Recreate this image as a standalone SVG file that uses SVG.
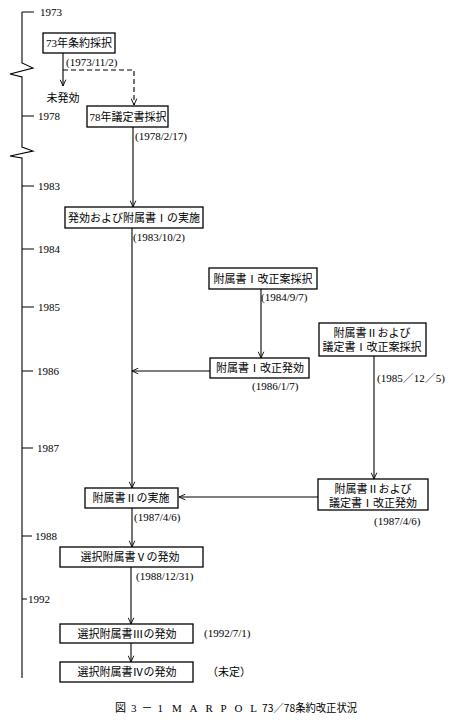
<svg xmlns="http://www.w3.org/2000/svg" width="455" height="725" viewBox="0 0 455 725">
<style>
text{font-family:"Liberation Serif","Noto Sans CJK JP",serif;font-size:11px;fill:#000}
.lbl{font-family:"Liberation Serif","Noto Sans CJK JP",serif;font-size:11px;text-anchor:middle}
.box{fill:#fff;stroke:#000;stroke-width:1.3}
.ln{fill:none;stroke:#000;stroke-width:1.1}
.dash{fill:none;stroke:#000;stroke-width:1.1;stroke-dasharray:5,3}
</style>
<defs>
<marker id="ah" viewBox="0 0 10 10" refX="10" refY="5" markerWidth="7" markerHeight="7" orient="auto" markerUnits="userSpaceOnUse">
<path d="M1,1 L10,5 L1,9" fill="none" stroke="#000" stroke-width="1.3"/>
</marker>
</defs>
<g id="axis">
<path class="ln" d="M22,12 V63 L33,68 L10,74 L22,77 V147 L33,151 L10,156 L22,158 V678"/>
<path class="ln" d="M22,12 H34 M22,116 H34 M22,186 H34 M22,249 H34 M22,307 H34 M22,371 H33 M22,448 H33 M22,536 H32 M22,599 H27"/>
<text x="40" y="16">1973</text>
<text x="38" y="120">1978</text>
<text x="38" y="190">1983</text>
<text x="38" y="253">1984</text>
<text x="38" y="311">1985</text>
<text x="37" y="375">1986</text>
<text x="37" y="452">1987</text>
<text x="35" y="540">1988</text>
<text x="28" y="603">1992</text>
</g>
<g id="connectors">
<line class="ln" x1="63" y1="53" x2="63" y2="86" marker-end="url(#ah)"/>
<path class="dash" d="M63,70 H134 V105" marker-end="url(#ah)"/>
<line class="ln" x1="133" y1="127" x2="133" y2="207" marker-end="url(#ah)"/>
<line class="ln" x1="132" y1="228" x2="132" y2="488" marker-end="url(#ah)"/>
<line class="ln" x1="261" y1="289" x2="261" y2="358" marker-end="url(#ah)"/>
<line class="ln" x1="210" y1="371" x2="132" y2="371" marker-end="url(#ah)"/>
<line class="ln" x1="374" y1="356" x2="374" y2="479" marker-end="url(#ah)"/>
<line class="ln" x1="318" y1="497" x2="179" y2="497" marker-end="url(#ah)"/>
<line class="ln" x1="132" y1="508" x2="132" y2="547" marker-end="url(#ah)"/>
<line class="ln" x1="131" y1="567" x2="131" y2="624" marker-end="url(#ah)"/>
<line class="ln" x1="131" y1="643" x2="131" y2="662" marker-end="url(#ah)"/>
</g>
<g id="n1">
<rect class="box" x="43" y="33" width="72" height="20"/>
<text class="lbl" x="79" y="47">73年条約採択</text>
<text x="66" y="66">(1973/11/2)</text>
</g>
<g id="n1b">
<text class="lbl" x="63" y="102">未発効</text>
</g>
<g id="n2">
<rect class="box" x="87" y="106" width="81" height="21"/>
<text class="lbl" x="128" y="121">78年議定書採択</text>
<text x="135" y="140">(1978/2/17)</text>
</g>
<g id="n3">
<rect class="box" x="65" y="207" width="138" height="21"/>
<text class="lbl" x="134" y="222">発効および附属書Ⅰの実施</text>
<text x="133" y="241">(1983/10/2)</text>
</g>
<g id="n4">
<rect class="box" x="209" y="268" width="108" height="21"/>
<text class="lbl" x="263" y="283">附属書Ⅰ改正案採択</text>
<text x="261" y="301">(1984/9/7)</text>
</g>
<g id="n5">
<rect class="box" x="210" y="358" width="99" height="20"/>
<text class="lbl" x="260" y="372">附属書Ⅰ改正発効</text>
<text x="252" y="390">(1986/1/7)</text>
</g>
<g id="n6">
<rect class="box" x="319" y="323" width="107" height="33"/>
<text class="lbl" x="372" y="337">附属書Ⅱおよび</text>
<text class="lbl" x="372" y="351">議定書Ⅰ改正案採択</text>
<text x="377" y="382">(1985／12／5)</text>
</g>
<g id="n7">
<rect class="box" x="318" y="479" width="110" height="31"/>
<text class="lbl" x="373" y="493">附属書Ⅱおよび</text>
<text class="lbl" x="373" y="507">議定書Ⅰ改正発効</text>
<text x="374" y="525">(1987/4/6)</text>
</g>
<g id="n8">
<rect class="box" x="85" y="488" width="93" height="20"/>
<text class="lbl" x="131" y="502">附属書Ⅱの実施</text>
<text x="134" y="521">(1987/4/6)</text>
</g>
<g id="n9">
<rect class="box" x="60" y="547" width="143" height="20"/>
<text class="lbl" x="130" y="561">選択附属書Ⅴの発効</text>
<text x="136" y="580">(1988/12/31)</text>
</g>
<g id="n10">
<rect class="box" x="60" y="624" width="133" height="19"/>
<text class="lbl" x="127" y="638">選択附属書Ⅲの発効</text>
<text x="204" y="637">(1992/7/1)</text>
</g>
<g id="n11">
<rect class="box" x="60" y="662" width="133" height="20"/>
<text class="lbl" x="127" y="676">選択附属書Ⅳの発効</text>
<text x="207" y="676">（未定）</text>
</g>
<g id="caption">
<text x="115" y="712" font-size="12" textLength="48" lengthAdjust="spacing">図3－1</text>
<text x="172" y="712" font-size="12" textLength="85" lengthAdjust="spacing">MARPOL</text>
<text x="262" y="712" font-size="11" textLength="95" lengthAdjust="spacingAndGlyphs" style="font-family:'Noto Sans CJK JP','Liberation Sans',sans-serif">73／78条約改正状況</text>
</g>
</svg>
